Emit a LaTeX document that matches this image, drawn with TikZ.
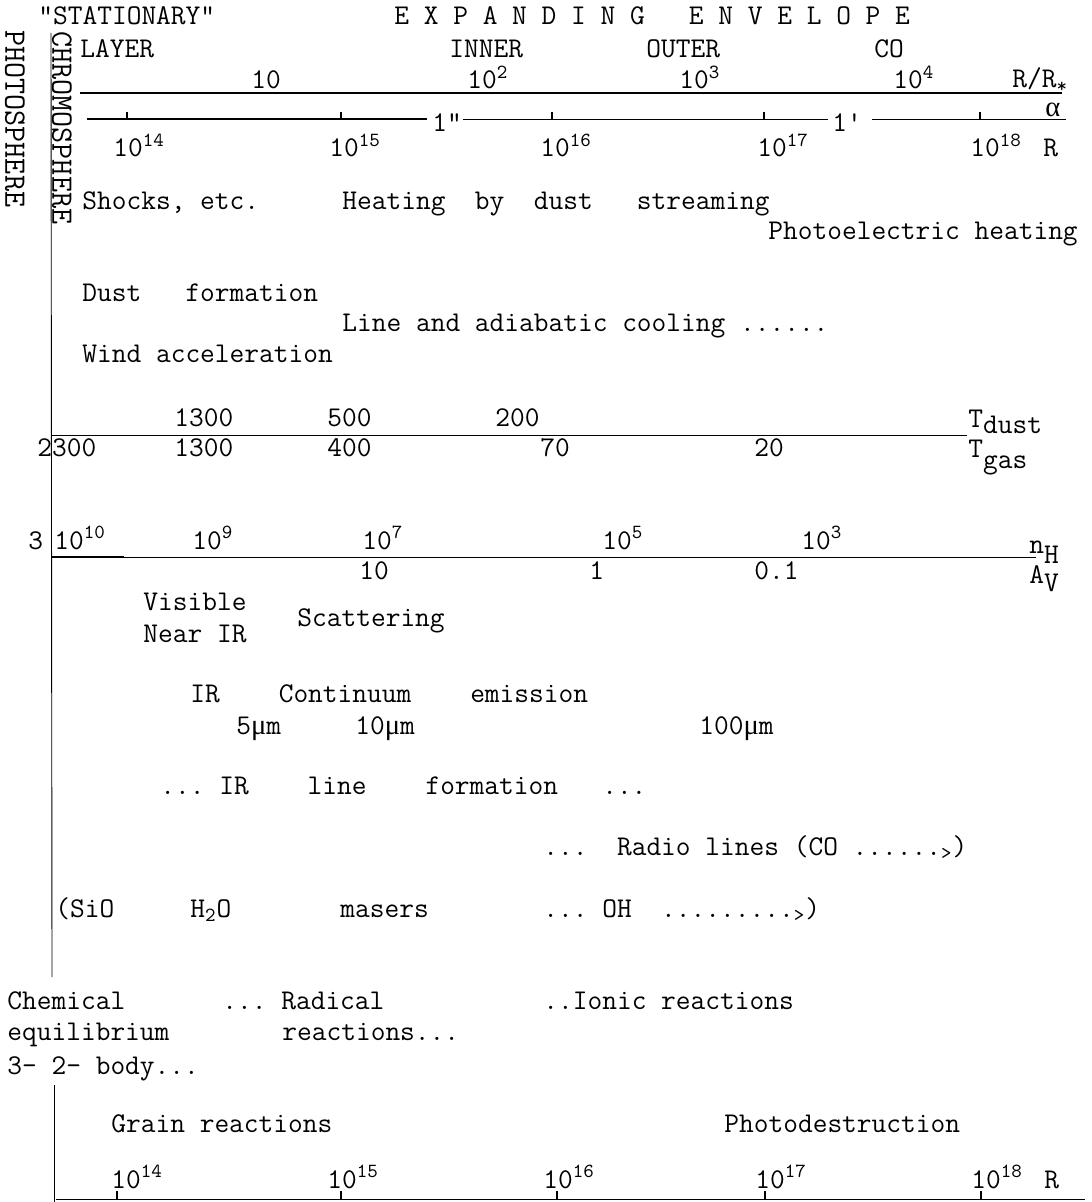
\documentclass[tikz,border=0pt]{standalone}
\usepackage{fontspec}
\newfontfamily\grk{Liberation Serif}
\frenchspacing

\tikzset{
  txt/.style={anchor=base west, inner sep=0pt, font=\ttfamily\fontsize{14.3}{17}\selectfont},
  side/.style={anchor=west, inner sep=0pt, rotate=-90, font=\ttfamily\fontsize{15.6}{18}\selectfont},
  axisline/.style={line width=0.8pt},
  thinline/.style={line width=0.45pt},
  tickmark/.style={line width=0.9pt},
}
\newcommand\tenpow[1]{10\textsuperscript{#1}}
\newcommand\lowered[2]{\raisebox{-#1pt}{#2}}
\newcommand\mum{{\grk μ}m}

\begin{document}
\begin{tikzpicture}[x=0.5pt, y=-0.5pt]
  \useasboundingbox (0,0) rectangle (1091,1202);

  % heading and side labels
  \node[txt]  (stat)   at (38,25)  {\textquotedbl STATIONARY\textquotedbl};
  \node[txt]  (expand) at (394,25) {E X P A N D I N G~~~E N V E L O P E};
  \node[side] (photo)  at (15,30)  {PHOTOSPHERE};
  \node[side] (chromo) at (62,31)  {CHROMOSPHERE};
  \draw[thinline] (51,33) -- (52,977);
  \draw[thinline] (54,1085) -- (54,1202);

  \node[txt] (layer) at (80,58)  {LAYER};
  \node[txt] (inner) at (449,58) {INNER};
  \node[txt] (outer) at (646,58) {OUTER};
  \node[txt] (co)    at (874,58) {CO};

  % R/R* scale
  \draw[axisline] (80,93) -- (1062,93);
  \node[txt] (rr1) at (251,89)  {10};
  \node[txt] (rr2) at (467,89)  {\tenpow{2}};
  \node[txt] (rr3) at (679,89)  {\tenpow{3}};
  \node[txt] (rr4) at (893,89)  {\tenpow{4}};
  \node[txt] (rrs) at (1012,88) {R/R\textsubscript{*}};

  % angle and radius scale
  \draw[axisline, line width=1.1pt] (87,119) -- (427,119);
  \node[txt] (arcsec) at (432,132) {1\textquotedbl};
  \draw[thinline] (463,119) -- (828,119);
  \node[txt] (arcmin) at (832,132) {1\textquotesingle};
  \draw[thinline] (872,119) -- (1066,119);
  \foreach \x in {127,341,552,764,980}
    \draw[tickmark] (\x,119) -- ++(0,-7);
  \node[txt] (alpha) at (1045,117) {\grk α};
  \node[txt] (ra14) at (113,157)  {\tenpow{14}};
  \node[txt] (ra15) at (329,157)  {\tenpow{15}};
  \node[txt] (ra16) at (540,157)  {\tenpow{16}};
  \node[txt] (ra17) at (757,157)  {\tenpow{17}};
  \node[txt] (ra18) at (970,157)  {\tenpow{18}};
  \node[txt] (ra)   at (1043,157) {R};

  % heating and cooling
  \node[txt] (shocks) at (82,210)  {Shocks, etc.};
  \node[txt] (heat)   at (342,210) {Heating~~by~~dust~~~streaming};
  \node[txt] (photoh) at (768,240) {Photoelectric heating};
  \node[txt] (dust)   at (82,302)  {Dust~~~formation};
  \node[txt] (cool)   at (342,332) {Line and adiabatic cooling ......};
  \node[txt] (wind)   at (82,363)  {Wind acceleration};

  % temperatures
  \draw[thinline] (52,435) -- (967,435);
  \node[txt] (td1) at (174,427) {1300};
  \node[txt] (td2) at (327,427) {500};
  \node[txt] (td3) at (495,427) {200};
  \node[txt] (tdust) at (968,428) {T\lowered{3}{dust}};
  \node[txt] (tg0) at (37,457)  {2300};
  \node[txt] (tg1) at (174,457) {1300};
  \node[txt] (tg2) at (327,457) {400};
  \node[txt] (tg3) at (540,457) {70};
  \node[txt] (tg4) at (754,457) {20};
  \node[txt] (tgas) at (968,458) {T\lowered{5.5}{gas}};

  % density and extinction
  \node[txt] (three) at (28,549) {3};
  \draw[thinline] (52,557) -- (1036,557);
  \draw[axisline, line width=1.2pt] (52,557) -- (124,557);
  \node[txt] (nh10) at (54,549)  {\tenpow{10}};
  \node[txt] (nh9)  at (192,549) {\tenpow{9}};
  \node[txt] (nh7)  at (362,549) {\tenpow{7}};
  \node[txt] (nh5)  at (602,549) {\tenpow{5}};
  \node[txt] (nh3)  at (801,549) {\tenpow{3}};
  \node[txt] (nh)   at (1029,553) {n\lowered{5}{H}};
  \node[txt] (av1)  at (359,579) {10};
  \node[txt] (av2)  at (589,579) {1};
  \node[txt] (av3)  at (754,579) {0.1};
  \node[txt] (av)   at (1029,583) {A\lowered{4}{V}};

  % radiation
  \node[txt] (vis)   at (143,610) {Visible};
  \node[txt] (nir)   at (143,642) {Near IR};
  \node[txt] (scat)  at (297,626) {Scattering};
  \node[txt] (irc)   at (190,702) {IR~~~~Continuum~~~~emission};
  \node[txt] (w5)    at (236,734) {5\mum};
  \node[txt] (w10)   at (355,734) {10\mum};
  \node[txt] (w100)  at (699,734) {100\mum};
  \node[txt] (irl)   at (160,794) {... IR~~~~line~~~~formation~~~...};
  \node[txt] (radio) at (543,855) {...~~Radio lines (CO ......\textsubscript{>})};
  \node[txt] (sio)   at (55,917)  {(SiO};
  \node[txt] (water) at (190,917) {H\textsubscript{2}O};
  \node[txt] (maser) at (340,917) {masers};
  \node[txt] (oh)    at (543,917) {... OH~~.........\textsubscript{>})};

  % chemistry
  \node[txt] (chem)  at (7,1009)   {Chemical};
  \node[txt] (rad)   at (222,1009) {... Radical};
  \node[txt] (ionic) at (543,1009) {..Ionic reactions};
  \node[txt] (equil) at (7,1040)   {equilibrium};
  \node[txt] (radr)  at (282,1040) {reactions...};
  \node[txt] (body)  at (7,1074)   {3- 2- body...};
  \node[txt] (grain) at (111,1132) {Grain reactions};
  \node[txt] (pdest) at (724,1132) {Photodestruction};

  % radius scale at the foot
  \node[txt] (rb14) at (111,1188)  {\tenpow{14}};
  \node[txt] (rb15) at (327,1188)  {\tenpow{15}};
  \node[txt] (rb16) at (543,1188)  {\tenpow{16}};
  \node[txt] (rb17) at (755,1188)  {\tenpow{17}};
  \node[txt] (rb18) at (971,1188)  {\tenpow{18}};
  \node[txt] (rb)   at (1044,1188) {R};
  \draw[thinline] (56,1199) -- (1085,1199);
  \foreach \x in {117,341,557,765,981}
    \draw[tickmark] (\x,1199) -- ++(0,-8);
\end{tikzpicture}
\end{document}
